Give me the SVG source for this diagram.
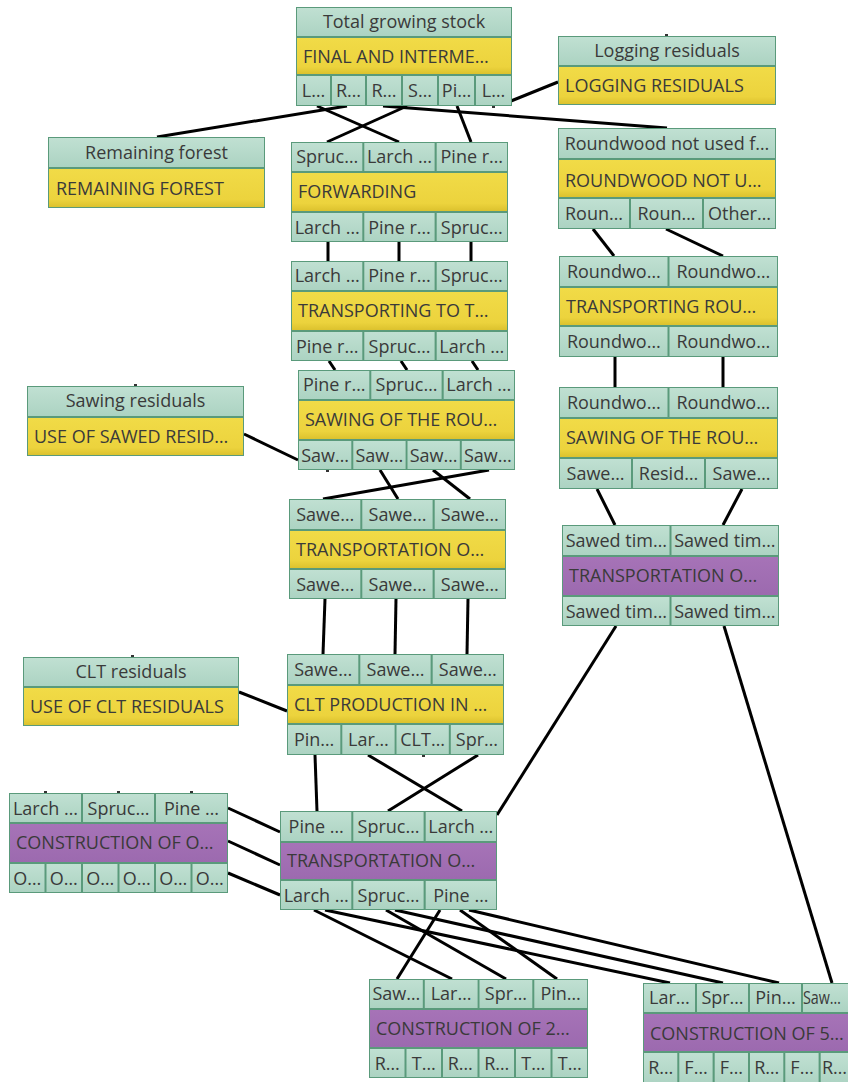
<svg xmlns="http://www.w3.org/2000/svg" width="848" height="1082" viewBox="0 0 848 1082">
  <style>
    .frame { fill: #5a9a7b; }
    .cell { fill: url(#gTeal); }
    .yel { fill: url(#gYel); }
    .pur { fill: url(#gPur); }
    text { font-family: "Open Sans", "Noto Sans", "DejaVu Sans", sans-serif; font-size: 18px; fill: #3a3a3a; }
    .c { text-anchor: middle; }
    .links line { stroke: #000; stroke-width: 3; fill: none; }
    .stub { fill: #333; }
  </style>
  <defs>
    <linearGradient id="gTeal" x1="0" y1="0" x2="0" y2="1">
      <stop offset="0" stop-color="#c0e0d2"/>
      <stop offset="1" stop-color="#acd3c2"/>
    </linearGradient>
    <linearGradient id="gYel" x1="0" y1="0" x2="0" y2="1">
      <stop offset="0" stop-color="#f1db47"/>
      <stop offset="0.8" stop-color="#ecd33d"/>
      <stop offset="1" stop-color="#dcc22e"/>
    </linearGradient>
    <linearGradient id="gPur" x1="0" y1="0" x2="0" y2="1">
      <stop offset="0" stop-color="#a673b7"/>
      <stop offset="1" stop-color="#9c6aaf"/>
    </linearGradient>
  </defs>

  <rect width="848" height="1082" fill="#ffffff"/>

  <!-- connectors -->
  <g id="connectors" class="links">
    <line x1="317" y1="106" x2="399" y2="142"/>
    <line x1="347" y1="106" x2="157" y2="137"/>
    <line x1="383" y1="106" x2="667" y2="128"/>
    <line x1="407" y1="106" x2="327" y2="142"/>
    <line x1="457" y1="106" x2="471" y2="142"/>
    <line x1="511" y1="101" x2="558" y2="82"/>

    <line x1="328" y1="242" x2="328" y2="261"/>
    <line x1="399" y1="242" x2="399" y2="261"/>
    <line x1="471" y1="242" x2="471" y2="261"/>

    <line x1="329" y1="361" x2="335" y2="370"/>
    <line x1="401" y1="361" x2="407" y2="370"/>
    <line x1="472" y1="361" x2="478" y2="370"/>

    <line x1="593" y1="229" x2="614" y2="256"/>
    <line x1="666" y1="229" x2="723" y2="256"/>
    <line x1="615" y1="357" x2="615" y2="387"/>
    <line x1="723" y1="357" x2="723" y2="387"/>
    <line x1="597" y1="489" x2="615" y2="525"/>
    <line x1="742" y1="489" x2="723" y2="525"/>

    <line x1="244" y1="434" x2="298" y2="460"/>
    <line x1="489" y1="470" x2="323" y2="499"/>
    <line x1="380" y1="470" x2="398" y2="499"/>
    <line x1="433" y1="470" x2="470" y2="499"/>

    <line x1="325" y1="599" x2="323" y2="654"/>
    <line x1="396" y1="599" x2="395" y2="654"/>
    <line x1="468" y1="599" x2="467" y2="654"/>

    <line x1="239" y1="692" x2="287" y2="711"/>
    <line x1="315" y1="755" x2="317" y2="811"/>
    <line x1="368" y1="755" x2="462" y2="811"/>
    <line x1="478" y1="755" x2="388" y2="811"/>
    <line x1="616" y1="626" x2="497" y2="815"/>
    <line x1="724" y1="626" x2="832" y2="983"/>

    <line x1="228" y1="808" x2="280" y2="832"/>
    <line x1="228" y1="841" x2="280" y2="865"/>
    <line x1="228" y1="873" x2="280" y2="895"/>

    <line x1="314" y1="910" x2="452" y2="979"/>
    <line x1="325" y1="910" x2="670" y2="983"/>
    <line x1="386" y1="910" x2="506" y2="979"/>
    <line x1="395" y1="910" x2="723" y2="983"/>
    <line x1="440" y1="910" x2="397" y2="979"/>
    <line x1="460" y1="910" x2="557" y2="979"/>
    <line x1="469" y1="910" x2="779" y2="983"/>
  </g>

  <!-- unconnected port handles -->
  <g id="handles">
    <rect class="stub" x="665" y="34" width="3" height="2"/>
    <rect class="stub" x="134" y="384" width="3" height="2"/>
    <rect class="stub" x="131" y="655" width="3" height="2"/>
    <rect class="stub" x="44" y="791" width="3" height="2"/>
    <rect class="stub" x="117" y="791" width="3" height="2"/>
    <rect class="stub" x="190" y="791" width="3" height="2"/>
    <rect class="stub" x="422" y="755" width="3" height="2"/>
    <rect class="stub" x="492" y="106" width="3" height="2"/>
    <rect class="stub" x="326" y="470" width="3" height="2"/>
  </g>

  <!-- Total growing stock -->
  <g id="n-total-growing-stock">
    <rect class="frame" x="296" y="7" width="216" height="99"/>
    <rect class="cell" x="297" y="8" width="214" height="28"/>
    <rect class="yel" x="297" y="38" width="214" height="36"/>
    <rect class="cell" x="297" y="76" width="33" height="29"/>
    <rect class="cell" x="332" y="76" width="33" height="29"/>
    <rect class="cell" x="367" y="76" width="34" height="29"/>
    <rect class="cell" x="403" y="76" width="34" height="29"/>
    <rect class="cell" x="439" y="76" width="35" height="29"/>
    <rect class="cell" x="476" y="76" width="35" height="29"/>
    <text class="c" x="404" y="28">Total growing stock</text>
    <text x="303" y="63">FINAL AND INTERME…</text>
    <text class="c" x="313.5" y="97">L…</text>
    <text class="c" x="348.5" y="97">R…</text>
    <text class="c" x="384" y="97">R…</text>
    <text class="c" x="420" y="97">S…</text>
    <text class="c" x="456.5" y="97">Pi…</text>
    <text class="c" x="493.5" y="97">L…</text>
  </g>

  <!-- Logging residuals -->
  <g id="n-logging-residuals">
    <rect class="frame" x="558" y="36" width="218" height="69"/>
    <rect class="cell" x="559" y="37" width="216" height="28"/>
    <rect class="yel" x="559" y="67" width="216" height="37"/>
    <text class="c" x="667" y="57">Logging residuals</text>
    <text x="565" y="92">LOGGING RESIDUALS</text>
  </g>

  <!-- Remaining forest -->
  <g id="n-remaining-forest">
    <rect class="frame" x="48" y="137" width="217" height="71"/>
    <rect class="cell" x="49" y="138" width="215" height="29"/>
    <rect class="yel" x="49" y="169" width="215" height="38"/>
    <text class="c" x="156.5" y="159">Remaining forest</text>
    <text x="56" y="195">REMAINING FOREST</text>
  </g>

  <!-- Roundwood not used -->
  <g id="n-roundwood-not-used">
    <rect class="frame" x="558" y="128" width="218" height="101"/>
    <rect class="cell" x="559" y="129" width="216" height="29"/>
    <rect class="yel" x="559" y="160" width="216" height="37"/>
    <rect class="cell" x="559" y="199" width="70" height="29"/>
    <rect class="cell" x="631" y="199" width="71" height="29"/>
    <rect class="cell" x="704" y="199" width="71" height="29"/>
    <text class="c" x="667" y="150">Roundwood not used f…</text>
    <text x="565" y="187">ROUNDWOOD NOT U…</text>
    <text class="c" x="594" y="220">Roun…</text>
    <text class="c" x="666.5" y="220">Roun…</text>
    <text class="c" x="739.5" y="220">Other…</text>
  </g>

  <!-- Forwarding -->
  <g id="n-forwarding">
    <rect class="frame" x="291" y="142" width="217" height="100"/>
    <rect class="cell" x="292" y="143" width="70.3" height="28"/>
    <rect class="cell" x="364.3" y="143" width="70.3" height="28"/>
    <rect class="cell" x="436.7" y="143" width="70.3" height="28"/>
    <rect class="yel" x="292" y="173" width="215" height="38"/>
    <rect class="cell" x="292" y="213" width="70.3" height="28"/>
    <rect class="cell" x="364.3" y="213" width="70.3" height="28"/>
    <rect class="cell" x="436.7" y="213" width="70.3" height="28"/>
    <text class="c" x="327.2" y="163">Spruc…</text>
    <text class="c" x="399.5" y="163">Larch …</text>
    <text class="c" x="471.8" y="163">Pine r…</text>
    <text x="298" y="198">FORWARDING</text>
    <text class="c" x="327.2" y="234">Larch …</text>
    <text class="c" x="399.5" y="234">Pine r…</text>
    <text class="c" x="471.8" y="234">Spruc…</text>
  </g>

  <!-- Transporting to T -->
  <g id="n-transporting-to-t">
    <rect class="frame" x="291" y="261" width="217" height="100"/>
    <rect class="cell" x="292" y="262" width="70.3" height="28"/>
    <rect class="cell" x="364.3" y="262" width="70.3" height="28"/>
    <rect class="cell" x="436.7" y="262" width="70.3" height="28"/>
    <rect class="yel" x="292" y="292" width="215" height="38"/>
    <rect class="cell" x="292" y="332" width="70.3" height="28"/>
    <rect class="cell" x="364.3" y="332" width="70.3" height="28"/>
    <rect class="cell" x="436.7" y="332" width="70.3" height="28"/>
    <text class="c" x="327.2" y="282">Larch …</text>
    <text class="c" x="399.5" y="282">Pine r…</text>
    <text class="c" x="471.8" y="282">Spruc…</text>
    <text x="298" y="317">TRANSPORTING TO T…</text>
    <text class="c" x="327.2" y="353">Pine r…</text>
    <text class="c" x="399.5" y="353">Spruc…</text>
    <text class="c" x="471.8" y="353">Larch …</text>
  </g>

  <!-- Transporting roundwood -->
  <g id="n-transporting-rou">
    <rect class="frame" x="559" y="256" width="219" height="101"/>
    <rect class="cell" x="560" y="257" width="107.5" height="29"/>
    <rect class="cell" x="669.5" y="257" width="107.5" height="29"/>
    <rect class="yel" x="560" y="288" width="217" height="37"/>
    <rect class="cell" x="560" y="327" width="107.5" height="29"/>
    <rect class="cell" x="669.5" y="327" width="107.5" height="29"/>
    <text class="c" x="613.8" y="278">Roundwo…</text>
    <text class="c" x="723.3" y="278">Roundwo…</text>
    <text x="566" y="313">TRANSPORTING ROU…</text>
    <text class="c" x="613.8" y="348">Roundwo…</text>
    <text class="c" x="723.3" y="348">Roundwo…</text>
  </g>

  <!-- Sawing of the roundwood (right) -->
  <g id="n-sawing-right">
    <rect class="frame" x="559" y="387" width="219" height="102"/>
    <rect class="cell" x="560" y="388" width="107.5" height="29"/>
    <rect class="cell" x="669.5" y="388" width="107.5" height="29"/>
    <rect class="yel" x="560" y="419" width="217" height="38"/>
    <rect class="cell" x="560" y="459" width="71" height="29"/>
    <rect class="cell" x="633" y="459" width="71" height="29"/>
    <rect class="cell" x="706" y="459" width="71" height="29"/>
    <text class="c" x="613.8" y="409">Roundwo…</text>
    <text class="c" x="723.3" y="409">Roundwo…</text>
    <text x="566" y="444">SAWING OF THE ROU…</text>
    <text class="c" x="595.5" y="480">Sawe…</text>
    <text class="c" x="668.5" y="480">Resid…</text>
    <text class="c" x="741.5" y="480">Sawe…</text>
  </g>

  <!-- Sawing residuals -->
  <g id="n-sawing-residuals">
    <rect class="frame" x="27" y="386" width="217" height="70"/>
    <rect class="cell" x="28" y="387" width="215" height="29"/>
    <rect class="yel" x="28" y="418" width="215" height="37"/>
    <text class="c" x="135.5" y="407">Sawing residuals</text>
    <text x="34" y="443">USE OF SAWED RESID…</text>
  </g>

  <!-- Sawing of the roundwood (left) -->
  <g id="n-sawing-left">
    <rect class="frame" x="298" y="370" width="217" height="100"/>
    <rect class="cell" x="299" y="371" width="70.3" height="28"/>
    <rect class="cell" x="371.3" y="371" width="70.3" height="28"/>
    <rect class="cell" x="443.7" y="371" width="70.3" height="28"/>
    <rect class="yel" x="299" y="401" width="215" height="38"/>
    <rect class="cell" x="299" y="441" width="52.3" height="28"/>
    <rect class="cell" x="353.3" y="441" width="52.3" height="28"/>
    <rect class="cell" x="407.5" y="441" width="52.3" height="28"/>
    <rect class="cell" x="461.8" y="441" width="52.3" height="28"/>
    <text class="c" x="334.2" y="391">Pine r…</text>
    <text class="c" x="406.5" y="391">Spruc…</text>
    <text class="c" x="478.8" y="391">Larch …</text>
    <text x="305" y="426">SAWING OF THE ROU…</text>
    <text class="c" x="325.1" y="462">Saw…</text>
    <text class="c" x="379.4" y="462">Saw…</text>
    <text class="c" x="433.6" y="462">Saw…</text>
    <text class="c" x="487.9" y="462">Saw…</text>
  </g>

  <!-- Transportation (yellow) -->
  <g id="n-transportation-sawed">
    <rect class="frame" x="289" y="499" width="217" height="100"/>
    <rect class="cell" x="290" y="500" width="70.3" height="29"/>
    <rect class="cell" x="362.3" y="500" width="70.3" height="29"/>
    <rect class="cell" x="434.7" y="500" width="70.3" height="29"/>
    <rect class="yel" x="290" y="531" width="215" height="37"/>
    <rect class="cell" x="290" y="570" width="70.3" height="28"/>
    <rect class="cell" x="362.3" y="570" width="70.3" height="28"/>
    <rect class="cell" x="434.7" y="570" width="70.3" height="28"/>
    <text class="c" x="325.2" y="521">Sawe…</text>
    <text class="c" x="397.5" y="521">Sawe…</text>
    <text class="c" x="469.8" y="521">Sawe…</text>
    <text x="296" y="556">TRANSPORTATION O…</text>
    <text class="c" x="325.2" y="591">Sawe…</text>
    <text class="c" x="397.5" y="591">Sawe…</text>
    <text class="c" x="469.8" y="591">Sawe…</text>
  </g>

  <!-- Transportation (purple, right) -->
  <g id="n-transportation-timber">
    <rect class="frame" x="562" y="525" width="217" height="101"/>
    <rect class="cell" x="563" y="526" width="106.5" height="29"/>
    <rect class="cell" x="671.5" y="526" width="106.5" height="29"/>
    <rect class="pur" x="563" y="557" width="215" height="38"/>
    <rect class="cell" x="563" y="597" width="106.5" height="28"/>
    <rect class="cell" x="671.5" y="597" width="106.5" height="28"/>
    <text class="c" x="616.3" y="547">Sawed tim…</text>
    <text class="c" x="724.8" y="547">Sawed tim…</text>
    <text x="569" y="582">TRANSPORTATION O…</text>
    <text class="c" x="616.3" y="618">Sawed tim…</text>
    <text class="c" x="724.8" y="618">Sawed tim…</text>
  </g>

  <!-- CLT residuals -->
  <g id="n-clt-residuals">
    <rect class="frame" x="23" y="657" width="216" height="69"/>
    <rect class="cell" x="24" y="658" width="214" height="28"/>
    <rect class="yel" x="24" y="688" width="214" height="37"/>
    <text class="c" x="131" y="678">CLT residuals</text>
    <text x="30" y="713">USE OF CLT RESIDUALS</text>
  </g>

  <!-- CLT production -->
  <g id="n-clt-production">
    <rect class="frame" x="287" y="654" width="217" height="101"/>
    <rect class="cell" x="288" y="655" width="70.3" height="29"/>
    <rect class="cell" x="360.3" y="655" width="70.3" height="29"/>
    <rect class="cell" x="432.7" y="655" width="70.3" height="29"/>
    <rect class="yel" x="288" y="686" width="215" height="37"/>
    <rect class="cell" x="288" y="725" width="52.3" height="29"/>
    <rect class="cell" x="342.3" y="725" width="52.3" height="29"/>
    <rect class="cell" x="396.5" y="725" width="52.3" height="29"/>
    <rect class="cell" x="450.8" y="725" width="52.3" height="29"/>
    <text class="c" x="323.2" y="676">Sawe…</text>
    <text class="c" x="395.5" y="676">Sawe…</text>
    <text class="c" x="467.8" y="676">Sawe…</text>
    <text x="294" y="711">CLT PRODUCTION IN …</text>
    <text class="c" x="314.1" y="746">Pin…</text>
    <text class="c" x="368.4" y="746">Lar…</text>
    <text class="c" x="422.6" y="746">CLT…</text>
    <text class="c" x="476.9" y="746">Spr…</text>
  </g>

  <!-- Construction (left) -->
  <g id="n-construction-o">
    <rect class="frame" x="9" y="793" width="219" height="100"/>
    <rect class="cell" x="10" y="794" width="71" height="28"/>
    <rect class="cell" x="83" y="794" width="71" height="28"/>
    <rect class="cell" x="156" y="794" width="71" height="28"/>
    <rect class="pur" x="10" y="824" width="217" height="38"/>
    <rect class="cell" x="10" y="864" width="34.5" height="28"/>
    <rect class="cell" x="46.5" y="864" width="34.5" height="28"/>
    <rect class="cell" x="83" y="864" width="34.5" height="28"/>
    <rect class="cell" x="119.5" y="864" width="34.5" height="28"/>
    <rect class="cell" x="156" y="864" width="34.5" height="28"/>
    <rect class="cell" x="192.5" y="864" width="34.5" height="28"/>
    <text class="c" x="45.5" y="815">Larch …</text>
    <text class="c" x="118.5" y="815">Spruc…</text>
    <text class="c" x="191.5" y="815">Pine …</text>
    <text x="16" y="849">CONSTRUCTION OF O…</text>
    <text class="c" x="27.3" y="885">O…</text>
    <text class="c" x="63.8" y="885">O…</text>
    <text class="c" x="100.3" y="885">O…</text>
    <text class="c" x="136.8" y="885">O…</text>
    <text class="c" x="173.3" y="885">O…</text>
    <text class="c" x="209.8" y="885">O…</text>
  </g>

  <!-- Transportation (purple, centre) -->
  <g id="n-transportation-clt">
    <rect class="frame" x="280" y="811" width="217" height="99"/>
    <rect class="cell" x="281" y="812" width="70.3" height="29"/>
    <rect class="cell" x="353.3" y="812" width="70.3" height="29"/>
    <rect class="cell" x="425.7" y="812" width="70.3" height="29"/>
    <rect class="pur" x="281" y="843" width="215" height="36"/>
    <rect class="cell" x="281" y="881" width="70.3" height="28"/>
    <rect class="cell" x="353.3" y="881" width="70.3" height="28"/>
    <rect class="cell" x="425.7" y="881" width="70.3" height="28"/>
    <text class="c" x="316.2" y="833">Pine …</text>
    <text class="c" x="388.5" y="833">Spruc…</text>
    <text class="c" x="460.8" y="833">Larch …</text>
    <text x="287" y="867">TRANSPORTATION O…</text>
    <text class="c" x="316.2" y="902">Larch …</text>
    <text class="c" x="388.5" y="902">Spruc…</text>
    <text class="c" x="460.8" y="902">Pine …</text>
  </g>

  <!-- Construction of 2 -->
  <g id="n-construction-2">
    <rect class="frame" x="369" y="979" width="219" height="99"/>
    <rect class="cell" x="370" y="980" width="52.8" height="28"/>
    <rect class="cell" x="424.8" y="980" width="52.8" height="28"/>
    <rect class="cell" x="479.5" y="980" width="52.8" height="28"/>
    <rect class="cell" x="534.3" y="980" width="52.8" height="28"/>
    <rect class="pur" x="370" y="1010" width="217" height="37"/>
    <rect class="cell" x="370" y="1049" width="34.5" height="28"/>
    <rect class="cell" x="406.5" y="1049" width="34.5" height="28"/>
    <rect class="cell" x="443" y="1049" width="34.5" height="28"/>
    <rect class="cell" x="479.5" y="1049" width="34.5" height="28"/>
    <rect class="cell" x="516" y="1049" width="34.5" height="28"/>
    <rect class="cell" x="552.5" y="1049" width="34.5" height="28"/>
    <text class="c" x="396.4" y="1000">Saw…</text>
    <text class="c" x="451.1" y="1000">Lar…</text>
    <text class="c" x="505.9" y="1000">Spr…</text>
    <text class="c" x="560.6" y="1000">Pin…</text>
    <text x="376" y="1035">CONSTRUCTION OF 2…</text>
    <text class="c" x="387.3" y="1070">R…</text>
    <text class="c" x="423.8" y="1070">T…</text>
    <text class="c" x="460.3" y="1070">R…</text>
    <text class="c" x="496.8" y="1070">R…</text>
    <text class="c" x="533.3" y="1070">T…</text>
    <text class="c" x="569.8" y="1070">T…</text>
  </g>

  <!-- Construction of 5 -->
  <g id="n-construction-5">
    <rect class="frame" x="643" y="983" width="212" height="104"/>
    <rect class="cell" x="644" y="984" width="51" height="28"/>
    <rect class="cell" x="697" y="984" width="51" height="28"/>
    <rect class="cell" x="750" y="984" width="51" height="28"/>
    <rect class="cell" x="803" y="984" width="51" height="28"/>
    <rect class="pur" x="644" y="1014" width="210" height="37"/>
    <rect class="cell" x="644" y="1053" width="33.3" height="32"/>
    <rect class="cell" x="679.3" y="1053" width="33.3" height="32"/>
    <rect class="cell" x="714.7" y="1053" width="33.3" height="32"/>
    <rect class="cell" x="750" y="1053" width="33.3" height="32"/>
    <rect class="cell" x="785.3" y="1053" width="33.3" height="32"/>
    <rect class="cell" x="820.7" y="1053" width="33.3" height="32"/>
    <text class="c" x="669.5" y="1004">Lar…</text>
    <text class="c" x="722.5" y="1004">Spr…</text>
    <text class="c" x="775.5" y="1004">Pin…</text>
    <text x="803" y="1004" font-size="16" textLength="38" lengthAdjust="spacingAndGlyphs">Saw…</text>
    <text x="650" y="1040">CONSTRUCTION OF 5…</text>
    <text class="c" x="660.7" y="1074">R…</text>
    <text class="c" x="696" y="1074">F…</text>
    <text class="c" x="731.3" y="1074">F…</text>
    <text class="c" x="766.7" y="1074">R…</text>
    <text class="c" x="802" y="1074">F…</text>
    <text class="c" x="834.5" y="1074">R…</text>
  </g>
</svg>
